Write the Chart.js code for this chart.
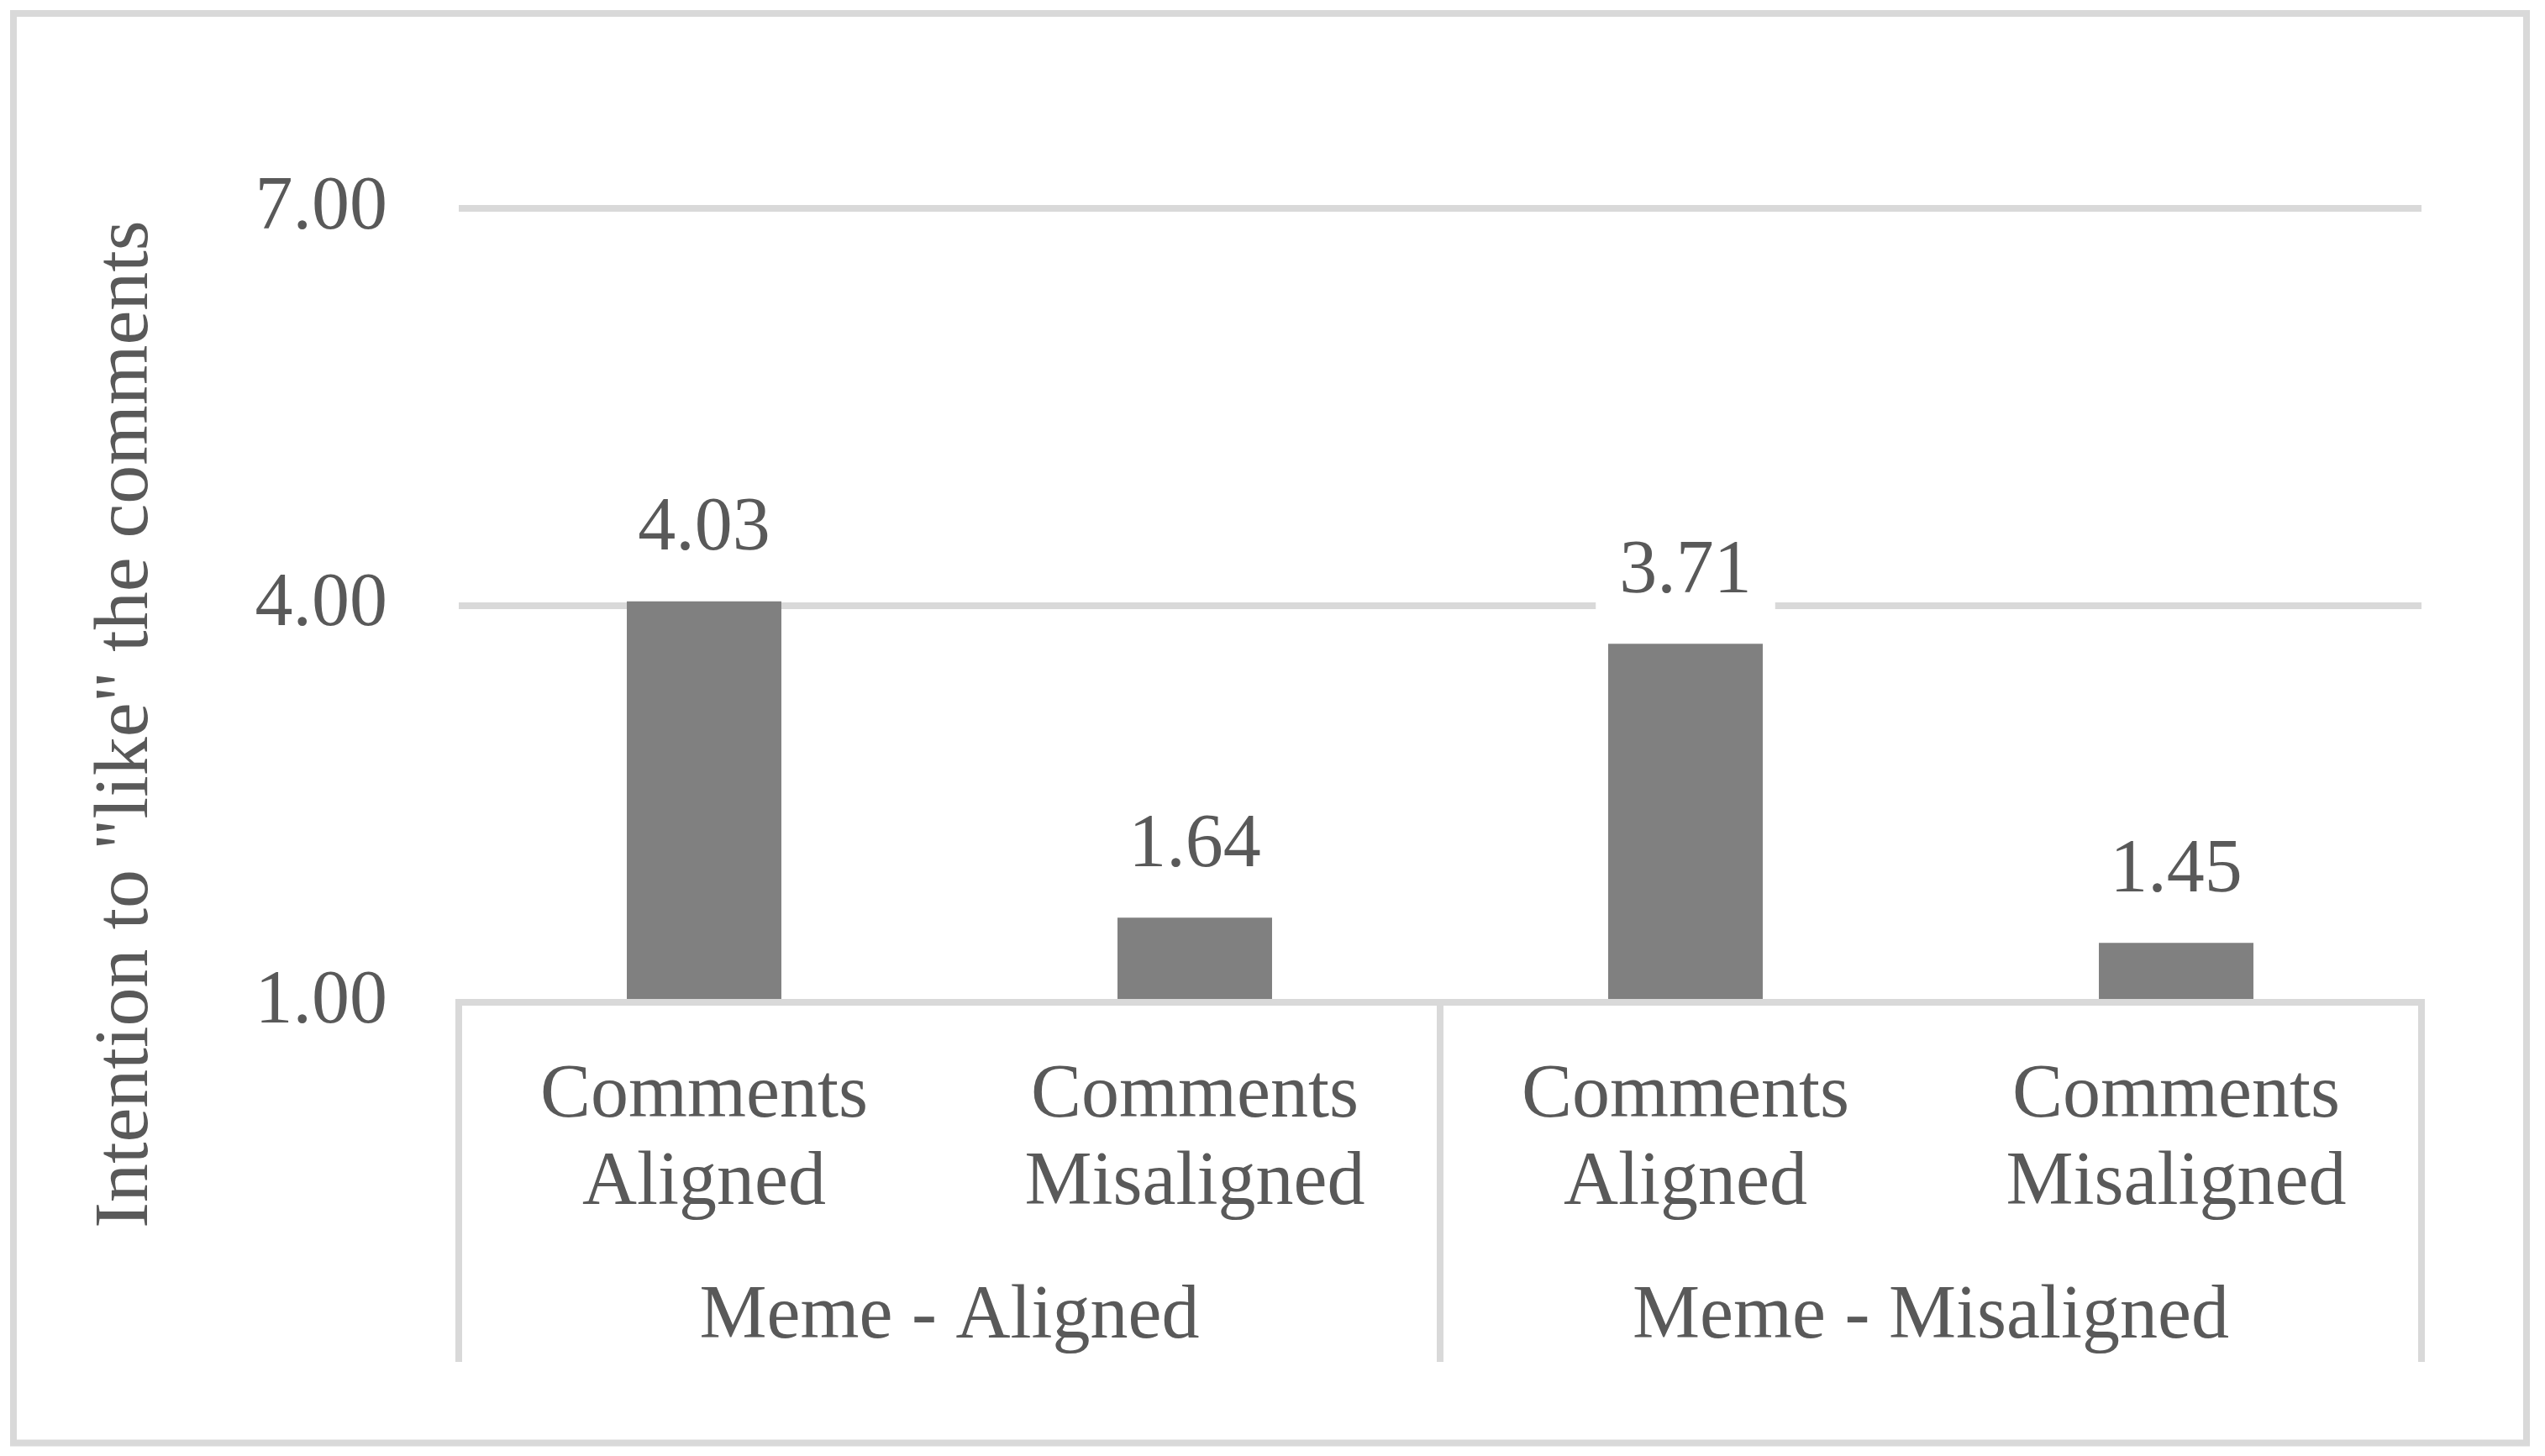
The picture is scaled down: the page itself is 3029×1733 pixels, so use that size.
<!DOCTYPE html>
<html><head><meta charset="utf-8">
<script src="https://cdn.jsdelivr.net/npm/chart.js@4.4.0/dist/chart.umd.min.js"></script>
<style>html,body{margin:0;padding:0;background:#fff;} canvas{display:block;}</style>
</head><body>
<canvas id="c" width="3029" height="1733"></canvas>
<script>
// ---- data ----
const categories = [["Comments", "Aligned"], ["Comments", "Misaligned"], ["Comments", "Aligned"], ["Comments", "Misaligned"]];
const groups = ["Meme - Aligned", "Meme - Misaligned"];
const values = [4.03, 1.64, 3.71, 1.45];
const yTicks = [1, 4, 7];
const yTitle = 'Intention to "like" the comments';

// ---- style ----
const FONT = "'Liberation Serif', 'Times New Roman', serif";
const FS = 90;
const TITLE_FS = 92;
const TEXT = '#595959';
const GRID = '#d9d9d9';

Chart.defaults.font.family = FONT;
Chart.defaults.font.size = FS;
Chart.defaults.color = TEXT;

const framePlugin = {
  id: 'frame',
  beforeDraw(chart) {
    const ctx = chart.ctx;
    ctx.save();
    ctx.fillStyle = '#fff';
    ctx.fillRect(0, 0, chart.width, chart.height);
    ctx.strokeStyle = GRID;
    ctx.lineWidth = 8;
    ctx.strokeRect(16, 16, 2991, 1701.5);
    ctx.restore();
  },
  afterDraw(chart) {
    const ctx = chart.ctx;
    ctx.save();
    ctx.font = TITLE_FS + 'px ' + FONT;
    ctx.fillStyle = TEXT;
    ctx.translate(175, 862);
    ctx.rotate(-Math.PI / 2);
    ctx.textAlign = 'center';
    ctx.textBaseline = 'alphabetic';
    ctx.fillText(yTitle, 0, 0);
    ctx.restore();
  }
};

const labelPlugin = {
  id: 'barLabels',
  afterDatasetsDraw(chart) {
    const ctx = chart.ctx;
    ctx.save();
    ctx.font = FS + 'px ' + FONT;
    ctx.textAlign = 'center';
    ctx.textBaseline = 'middle';
    chart.data.datasets.forEach((ds, di) => {
      const meta = chart.getDatasetMeta(di);
      meta.data.forEach((bar, i) => {
        const txt = ds.data[i].toFixed(2);
        const w = ctx.measureText(txt).width;
        const cy = bar.y - 85;
        ctx.fillStyle = '#fff';
        ctx.fillRect(bar.x - w / 2 - 28, cy - 52, w + 56, 104);
        ctx.fillStyle = TEXT;
        ctx.fillText(txt, bar.x, cy);
      });
    });
    ctx.restore();
  }
};

new Chart(document.getElementById('c'), {
  type: 'bar',
  data: {
    labels: categories,
    datasets: [{
      data: values,
      backgroundColor: '#808080',
      borderWidth: 0,
      barPercentage: 0.315,
      categoryPercentage: 1.0,
      xAxisID: 'x',
      yAxisID: 'y'
    }]
  },
  options: {
    responsive: false,
    animation: false,
    devicePixelRatio: 1,
    layout: { padding: { left: 0, right: 147, top: 248, bottom: 0 } },
    plugins: { legend: { display: false }, tooltip: { enabled: false }, title: { display: false } },
    scales: {
      y: {
        min: 1, max: 7,
        afterFit: s => { s.width = 546; },
        afterBuildTicks: s => { s.ticks = yTicks.map(v => ({ value: v })); },
        ticks: { padding: 85, callback: v => Number(v).toFixed(2), color: TEXT, font: { size: FS, family: FONT } },
        grid: { color: GRID, lineWidth: 8, drawTicks: false },
        border: { display: false }
      },
      x: {
        position: 'bottom',
        offset: true,
        afterFit: s => { s.height = 300; },
        grid: {
          offset: true,
          drawOnChartArea: false,
          drawTicks: true,
          tickLength: 428,
          lineWidth: 8,
          tickWidth: 8,
          color: c => (c.index === undefined || c.index % 2 === 0) ? GRID : 'rgba(0,0,0,0)',
          tickColor: c => (c.index === undefined || c.index % 2 === 0) ? GRID : 'rgba(0,0,0,0)'
        },
        border: { display: true, color: GRID, width: 8, z: 1 },
        ticks: { padding: -368, maxRotation: 0, autoSkip: false, color: TEXT, font: { size: FS, family: FONT, lineHeight: 1.16 } }
      },
      x2: {
        type: 'category',
        position: 'bottom',
        labels: groups,
        offset: true,
        afterFit: s => { s.height = 240; },
        grid: { display: false, drawTicks: false },
        border: { display: false },
        ticks: { padding: 23, maxRotation: 0, autoSkip: false, color: TEXT, font: { size: FS, family: FONT, lineHeight: 1.16 } }
      }
    }
  },
  plugins: [framePlugin, labelPlugin]
});
</script>
</body></html>
